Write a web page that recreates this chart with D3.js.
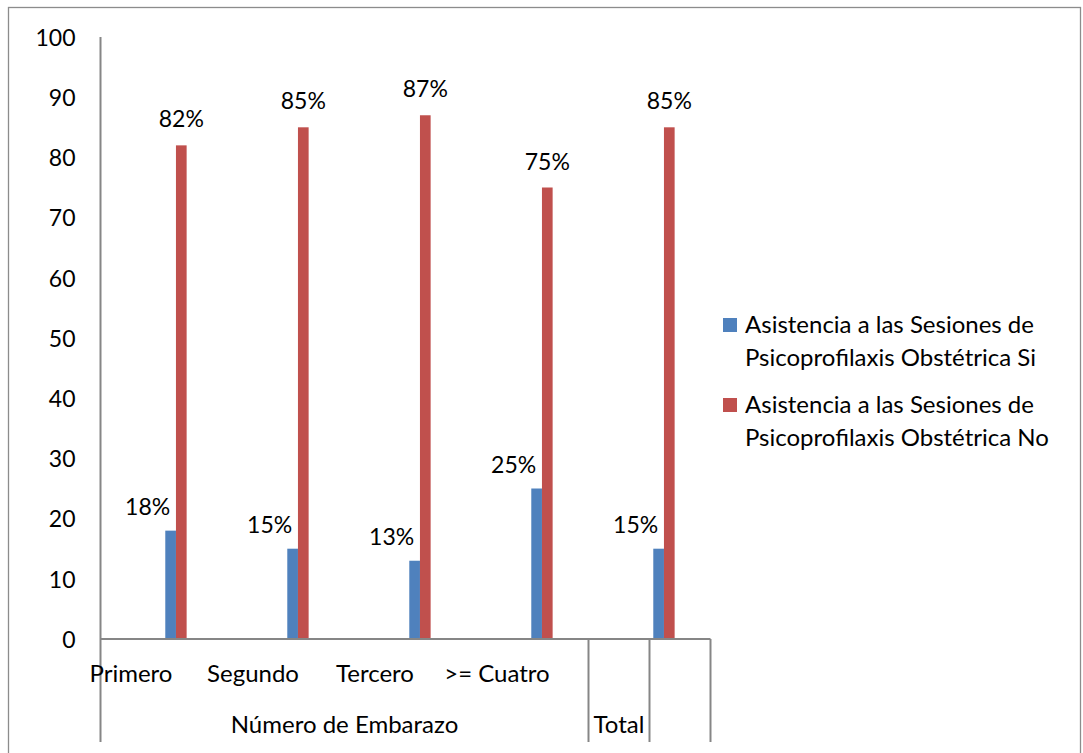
<!DOCTYPE html>
<html>
<head>
<meta charset="utf-8">
<script src="https://cdn.jsdelivr.net/npm/d3@7"></script>
<style>
  html, body { margin: 0; padding: 0; background: #fff; }
  svg { display: block; }
  text { font-family: Lato, "Open Sans", sans-serif; fill: #000; }
</style>
</head>
<body>
<svg id="chart" width="1083" height="753"></svg>
<script>
// ---- data ----
const categories = ["Primero", "Segundo", "Tercero", ">= Cuatro", "Total"];
const groupLabels = ["Número de Embarazo", "Número de Embarazo", "Número de Embarazo", "Número de Embarazo", "Total"];
const levelOneLabels = ["Primero", "Segundo", "Tercero", ">= Cuatro", ""];
const seriesNames = [
  "Asistencia a las Sesiones de Psicoprofilaxis Obstétrica Si",
  "Asistencia a las Sesiones de Psicoprofilaxis Obstétrica No"
];
const valuesSi = [18, 15, 13, 25, 15];
const valuesNo = [82, 85, 87, 75, 85];
const yTicks = [0, 10, 20, 30, 40, 50, 60, 70, 80, 90, 100];
const colors = ["#4F81BD", "#C0504D"];

// ---- layout ----
const svg = d3.select("#chart");
const axisColor = "#868686";
const fs = 24;     // word text
const fsNum = 23;  // numbers
const plotLeft = 100.5, plotRight = 710.5, plotTop = 37, plotBottom = 639;

const x = d3.scaleBand().domain(categories).range([plotLeft, plotRight]).padding(0);
const bw = x.bandwidth();
const xs = d3.scaleBand().domain([0, 1]).range([bw * 0.531, bw * 0.706]).padding(0);
const y = d3.scaleLinear().domain([0, 100]).range([plotBottom, plotTop]);

// outer border
svg.append("rect").attr("x", 8.5).attr("y", 7.5).attr("width", 1072).attr("height", 760)
  .attr("fill", "none").attr("stroke", "#8c8c8c").attr("stroke-width", 1.3);

// y axis (labels only + line)
const yAxis = d3.axisLeft(y).tickValues(yTicks).tickSize(0).tickPadding(25);
const gy = svg.append("g").attr("transform", `translate(${plotLeft},0)`).call(yAxis);
gy.select(".domain").remove();
gy.selectAll("text").attr("font-size", fsNum).attr("font-family", "Lato, sans-serif").attr("fill", "#000").attr("dy", "0.36em");

// bars
const series = [valuesSi, valuesNo];
series.forEach((vals, si) => {
  svg.append("g").selectAll("rect").data(vals).join("rect")
    .attr("x", (d, i) => x(categories[i]) + xs(si))
    .attr("y", d => y(d))
    .attr("width", xs.bandwidth())
    .attr("height", d => y(0) - y(d))
    .attr("fill", colors[si]);
});

// data labels
svg.append("g").selectAll("text").data(valuesNo).join("text")
  .attr("x", (d, i) => x(categories[i]) + xs(1) + xs.bandwidth() / 2)
  .attr("y", d => y(d) - 18)
  .attr("text-anchor", "middle").attr("font-size", fsNum)
  .text(d => d + "%");
svg.append("g").selectAll("text").data(valuesSi).join("text")
  .attr("x", (d, i) => x(categories[i]) + xs(0) + xs.bandwidth() / 2 - 23)
  .attr("y", d => y(d) - 16)
  .attr("text-anchor", "middle").attr("font-size", fsNum)
  .text(d => d + "%");

// axes lines
const lines = svg.append("g").attr("stroke", axisColor).attr("stroke-width", 2);
lines.append("line").attr("x1", plotLeft).attr("x2", plotLeft).attr("y1", plotTop).attr("y2", 742);
lines.append("line").attr("x1", plotLeft).attr("x2", plotRight).attr("y1", plotBottom).attr("y2", plotBottom);
const lastStart = x(categories[4]);
[lastStart, lastStart + bw / 2, plotRight].forEach(xx => {
  lines.append("line").attr("x1", xx).attr("x2", xx).attr("y1", plotBottom).attr("y2", 742);
});

// level-one category labels
svg.append("g").selectAll("text").data(levelOneLabels).join("text")
  .attr("x", (d, i) => x(categories[i]) + bw / 4)
  .attr("y", 682)
  .attr("text-anchor", "middle").attr("font-size", fs)
  .text(d => d);

// group labels
const groups = d3.groups(categories.map((c, i) => ({c, g: groupLabels[i]})), d => d.g);
groups.forEach(([g, items]) => {
  const x0 = x(items[0].c);
  const x1 = g === "Total" ? x0 + bw / 2 : x(items[items.length - 1].c) + bw;
  svg.append("text").attr("x", (x0 + x1) / 2).attr("y", 733)
    .attr("text-anchor", "middle").attr("font-size", fs).text(g);
});

// legend
const legend = svg.append("g");
seriesNames.forEach((name, i) => {
  const top = 318 + i * 80;
  legend.append("rect").attr("x", 723).attr("y", top).attr("width", 14).attr("height", 14).attr("fill", colors[i]);
  const words = name.split(" ");
  const line1 = words.slice(0, 5).join(" ");
  const line2 = words.slice(5).join(" ");
  legend.append("text").attr("x", 745).attr("y", top + 15).attr("font-size", fs).text(line1);
  legend.append("text").attr("x", 745).attr("y", top + 48).attr("font-size", fs).text(line2);
});
</script>
</body>
</html>
